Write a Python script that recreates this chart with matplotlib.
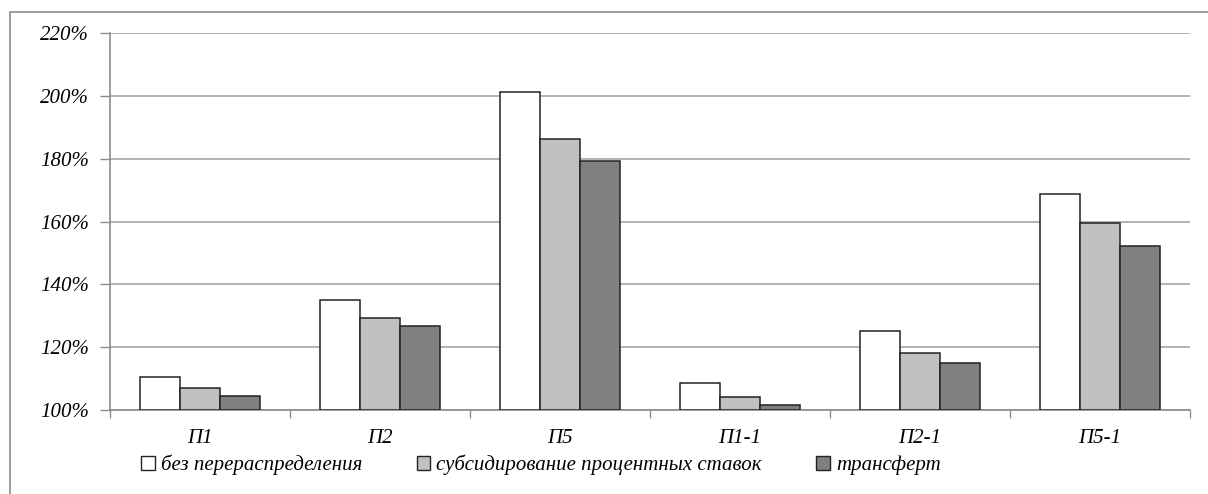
import numpy as np
import matplotlib
matplotlib.use('Agg')
from matplotlib import pyplot as plt
from matplotlib.patches import Rectangle, Patch
from matplotlib.ticker import FixedLocator, NullFormatter

categories = ['П1', 'П2', 'П5', 'П1-1', 'П2-1', 'П5-1']
series_names = ['без перераспределения', 'субсидирование процентных ставок', 'трансферт']
no_redistribution = [110.5, 135.0, 201.2, 108.6, 125.1, 168.7]
subsidy = [107.0, 129.3, 186.3, 104.2, 118.3, 159.4]
transfer = [104.5, 126.7, 179.3, 101.6, 115.1, 152.3]
y_ticks = [100, 120, 140, 160, 180, 200, 220]

colors = ['#ffffff', '#c0c0c0', '#808080']
font = 'Liberation Serif'

fig = plt.figure(figsize=(12.08, 4.94), dpi=100)
ax = fig.add_axes([110 / 1208, 84 / 494, 1080 / 1208, 377 / 494])

# outer chart frame (cropped at right and bottom)
fig.patches.append(Rectangle((10 / 1208, -0.1), 1.2, (494 - 12) / 494 + 0.1,
                             transform=fig.transFigure, fill=False,
                             edgecolor='#8c8c8c', linewidth=1.2))

x = np.arange(len(categories))
width = 0.222
for i, (vals, col) in enumerate(zip([no_redistribution, subsidy, transfer], colors)):
    ax.bar(x + (i - 1) * width, np.array(vals) - 100, width, bottom=100,
           color=col, edgecolor='#222222', linewidth=1.1, zorder=3)

ax.set_xlim(-0.5, len(categories) - 0.5)
ax.set_ylim(100, 220)
ax.set_yticks(y_ticks)
ax.set_yticklabels([f'{v}%' for v in y_ticks], fontfamily=font, fontstyle='italic', fontsize=15)
ax.yaxis.grid(True, color='#a6a6a6', linewidth=1.2, zorder=0)

ax.set_xticks(x)
ax.set_xticklabels(categories, fontfamily=font, fontstyle='italic', fontsize=15)
ax.tick_params(axis='x', which='major', length=0, pad=14)
ax.xaxis.set_minor_locator(FixedLocator(np.arange(-0.5, len(categories), 1.0)))
ax.xaxis.set_minor_formatter(NullFormatter())
ax.tick_params(axis='x', which='minor', length=6, color='#8c8c8c', width=1)
ax.tick_params(axis='y', length=7, color='#8c8c8c', width=1, pad=8)

for side in ['top', 'right']:
    ax.spines[side].set_visible(False)
for side in ['left', 'bottom']:
    ax.spines[side].set_color('#8c8c8c')
    ax.spines[side].set_linewidth(1.2)

handles = [Patch(facecolor=c, edgecolor='#222222', linewidth=1) for c in colors]
fig.legend(handles, series_names, loc='center', bbox_to_anchor=(541 / 1208, 1 - 465 / 494),
           ncol=3, frameon=False, handlelength=0.65, handleheight=0.65, handletextpad=0.3,
           columnspacing=2.6, prop={'family': font, 'style': 'italic', 'size': 15})

fig.savefig('out.png', dpi=100)
